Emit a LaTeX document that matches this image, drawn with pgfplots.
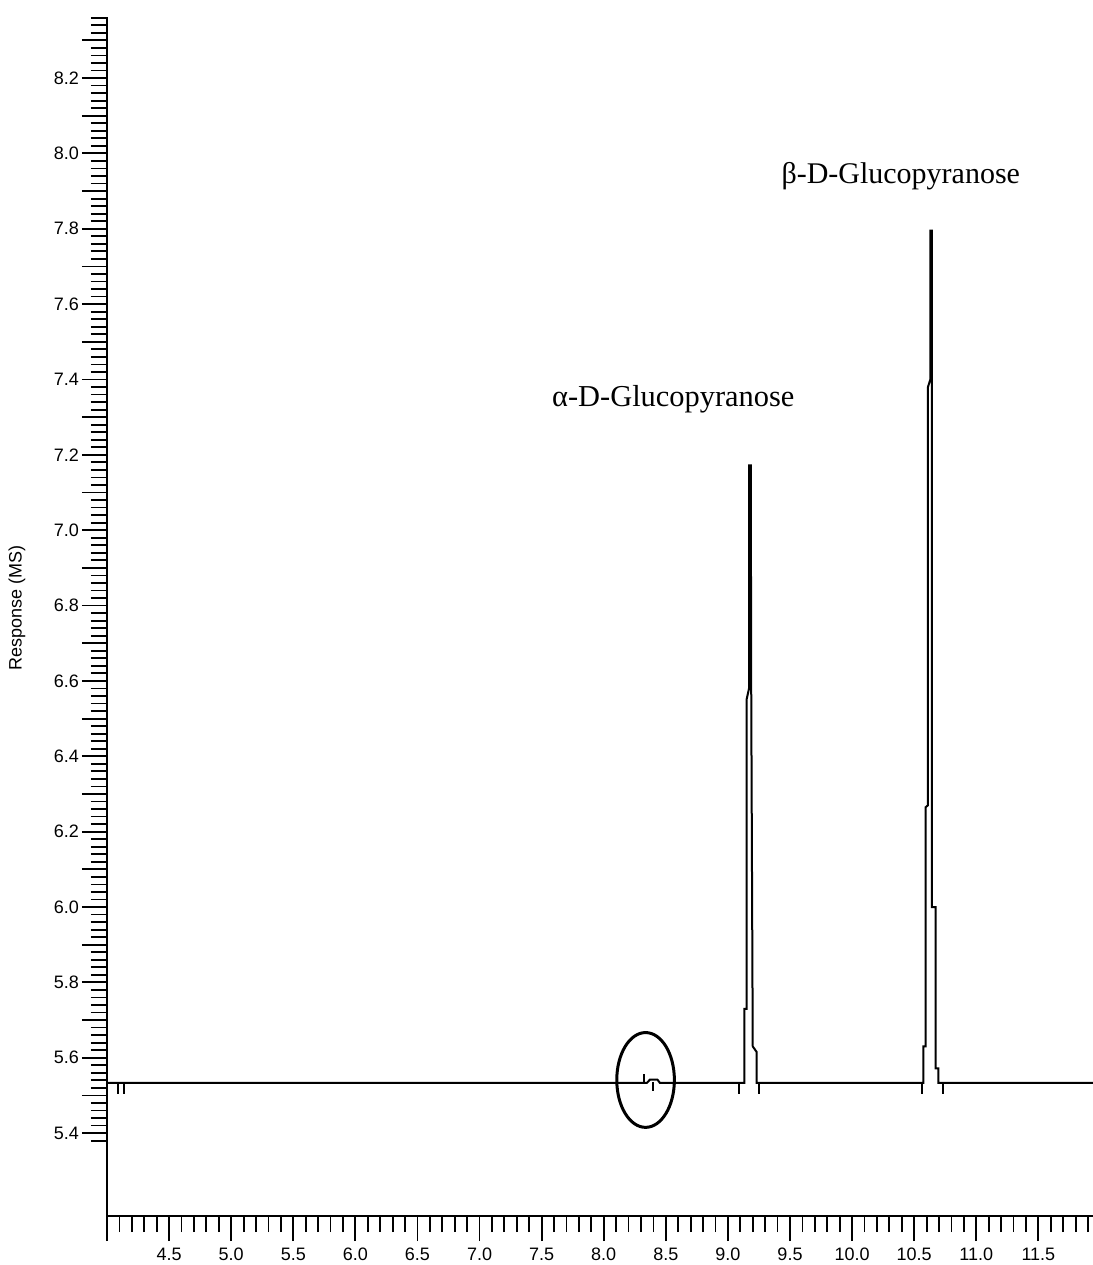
\documentclass[border=0pt]{standalone}
\usepackage{fontspec}
\setmainfont{Liberation Sans}
\newfontfamily\timesf{Liberation Serif}
\usepackage{pgfplots}
\pgfplotsset{compat=1.18}

\begin{document}
\begin{tikzpicture}
\path[use as bounding box] (0,0) rectangle (546.5pt,632.5pt);
\begin{axis}[at={(53.5pt,24.5pt)}, anchor=south west,
  scale only axis, width=493pt, height=599.5pt,
  xmin=4.0, xmax=11.94, ymin=5.18, ymax=8.362,
  axis x line*=bottom, axis y line*=left,
  axis line style={line width=1pt},
  tick align=outside, tick style={black, line width=0.9pt},
  major tick length=12.5pt, minor tick length=8pt,
  xtick={4.0,4.5,...,11.5},
  xticklabels={,4.5,5.0,5.5,6.0,6.5,7.0,7.5,8.0,8.5,9.0,9.5,10.0,10.5,11.0,11.5},
  minor xtick={4.1,4.2,...,11.9},
  ytick={5.4,5.6,...,8.2},
  yticklabels={5.4,5.6,5.8,6.0,6.2,6.4,6.6,6.8,7.0,7.2,7.4,7.6,7.8,8.0,8.2},
  extra y ticks={5.5,5.7,...,8.3}, extra y tick labels={},
  minor ytick={5.38,5.40,...,8.37},
  ticklabel style={font=\fontsize{9}{10}\selectfont},
  yticklabel style={xshift=2pt},
  ylabel={Response (MS)},
  ylabel style={at={(axis description cs:-0.0913,0.507)}, anchor=center, rotate=0, font=\fontsize{9}{10}\selectfont},
  clip=false]
% chromatogram trace
\addplot[black, line width=1pt] coordinates {
(4.0,5.533) (8.346,5.533) (8.373,5.542) (8.432,5.542) (8.453,5.533)
(9.133,5.533) (9.133,5.73) (9.150,5.73) (9.150,6.55) (9.170,6.58) (9.170,7.172) (9.184,7.172) (9.188,6.55) (9.200,5.63) (9.232,5.615) (9.232,5.533)
(10.573,5.533) (10.573,5.63) (10.593,5.63) (10.593,6.265) (10.611,6.27) (10.611,7.38) (10.630,7.40) (10.630,7.795) (10.642,7.795) (10.642,6.0) (10.673,6.0) (10.673,5.572) (10.694,5.572) (10.694,5.533)
(11.94,5.533)};
% integration markers
\addplot[black, line width=0.9pt, unbounded coords=jump] coordinates {
(4.089,5.533) (4.089,5.505) (4.089,nan)
(4.138,5.533) (4.138,5.505) (4.138,nan)
(8.327,5.533) (8.327,5.558) (8.327,nan)
(8.399,5.536) (8.399,5.512) (8.399,nan)
(9.089,5.533) (9.089,5.505) (9.089,nan)
(9.253,5.533) (9.253,5.505) (9.253,nan)
(10.565,5.533) (10.565,5.505) (10.565,nan)
(10.729,5.533) (10.729,5.505)};
\draw[line width=1.5pt] (axis cs:8.337,5.541) ellipse [x radius=14.4pt, y radius=23.7pt];
\node[anchor=base, font=\timesf\fontsize{15.2}{18}\selectfont] at (axis cs:8.56,7.327) {α-D-Glucopyranose};
\node[anchor=base, font=\timesf\fontsize{15}{18}\selectfont] at (axis cs:10.392,7.921) {β-D-Glucopyranose};
\end{axis}
\end{tikzpicture}
\end{document}
